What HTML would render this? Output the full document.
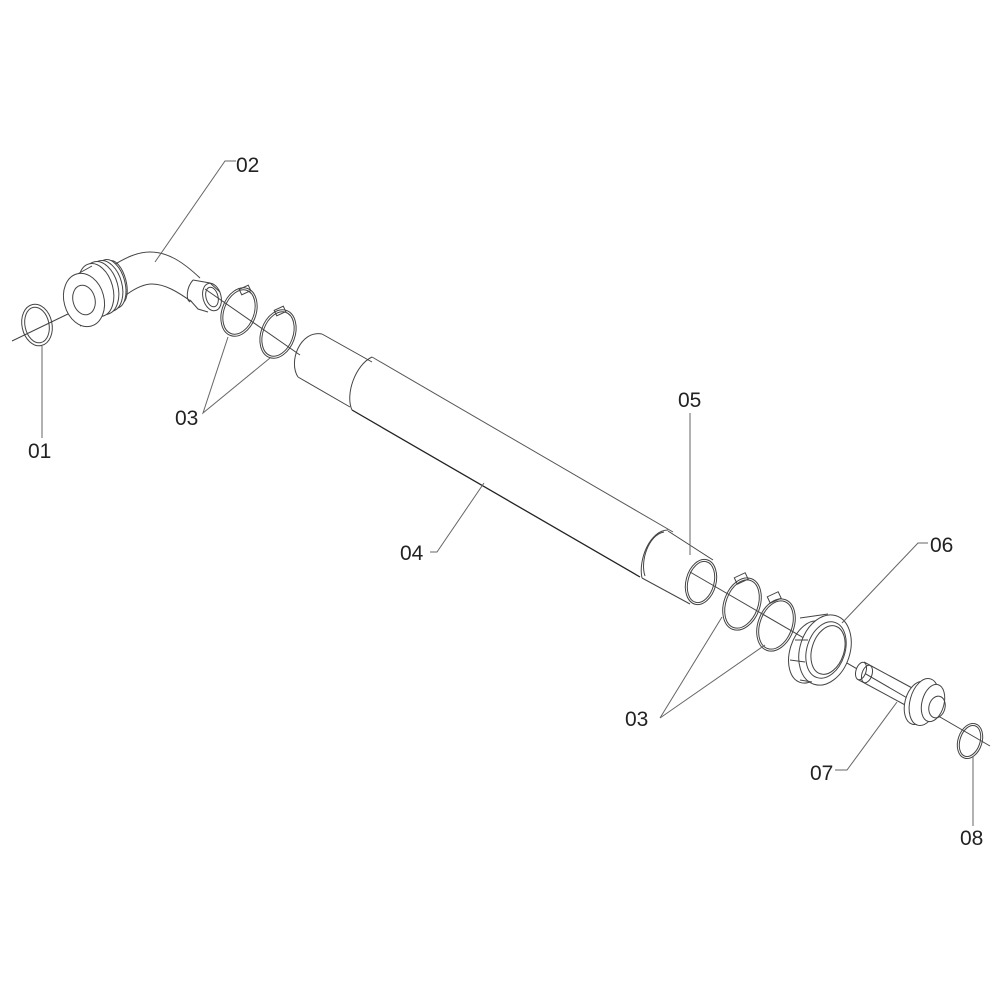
<!DOCTYPE html>
<html><head><style>
html,body{margin:0;padding:0;background:#fff;}
svg{display:block;}
text{font-family:"Liberation Sans",Arial,sans-serif;font-size:21px;fill:#222;}
</style></head><body>
<svg width="1000" height="1000" viewBox="0 0 1000 1000" xmlns="http://www.w3.org/2000/svg">
<g fill="none" stroke="#444" stroke-width="1">
<line x1="12" y1="341" x2="70" y2="313"/>
<line x1="205" y1="289" x2="300" y2="355"/>
<line x1="690" y1="572" x2="990" y2="746"/>

<ellipse cx="37" cy="325" rx="15" ry="21" transform="rotate(-12 37 325)"/>
<ellipse cx="37" cy="325" rx="12" ry="18" transform="rotate(-12 37 325)"/>

<path d="M112 266 C125 258 137 252 150 252 C168 252 183 262 200 278"/>
<path d="M122 298 C132 290 142 284 152 284 C165 284 178 292 192 302"/>
<ellipse cx="116" cy="282" rx="10" ry="22" transform="rotate(-15 116 282)"/>
<ellipse cx="111" cy="284" rx="14" ry="25" transform="rotate(-15 111 284)" fill="#fff"/>
<ellipse cx="106" cy="286" rx="16" ry="26" transform="rotate(-15 106 286)" fill="#fff"/>
<ellipse cx="101" cy="288" rx="17" ry="27" transform="rotate(-15 101 288)" fill="#fff"/>
<ellipse cx="96" cy="290" rx="17" ry="27" transform="rotate(-15 96 290)" fill="#fff"/>
<path d="M74 276 L92 266 M80 326 L98 318"/>
<ellipse cx="84" cy="300" rx="20" ry="27" transform="rotate(-15 84 300)" fill="#fff"/>
<ellipse cx="84" cy="300" rx="11" ry="15" transform="rotate(-15 84 300)"/>
<path d="M193 280 L210 283 L220 292 M190 300 L198 309 L208 312"/>
<path d="M193 280 C186 288 186 300 190 302"/>
<ellipse cx="212" cy="297" rx="9" ry="14" transform="rotate(-15 212 297)"/>
<ellipse cx="212" cy="297" rx="6" ry="10" transform="rotate(-15 212 297)"/>

<ellipse cx="239" cy="312" rx="17" ry="25" transform="rotate(20 239 312)"/>
<ellipse cx="239" cy="312" rx="15" ry="23" transform="rotate(20 239 312)"/>
<rect x="240" y="287" width="10" height="6" transform="rotate(-25 245 290)"/>
<ellipse cx="278" cy="334" rx="17" ry="25" transform="rotate(20 278 334)"/>
<ellipse cx="278" cy="334" rx="15" ry="23" transform="rotate(20 278 334)"/>
<rect x="275" y="308" width="10" height="6" transform="rotate(-25 280 311)"/>

<path d="M322 334 L372 362"/>
<path d="M298 377 L350 407"/>
<path d="M322 334 C300 330 288 362 298 377"/>
<path d="M372 357 C355 365 345 395 352 410"/>
<line x1="372" y1="357" x2="673" y2="532" stroke="#555"/>
<line x1="352" y1="410" x2="640" y2="577" stroke="#222" stroke-width="1.3"/>
<path d="M668 530 C650 530 638 560 642 578"/>
<path d="M664 532 C648 535 640 562 645 576"/>
<line x1="668" y1="531" x2="713" y2="560"/>
<line x1="642" y1="578" x2="690" y2="604"/>
<ellipse cx="701" cy="582" rx="15" ry="23" transform="rotate(15 701 582)"/>
<ellipse cx="701" cy="582" rx="13" ry="21" transform="rotate(15 701 582)"/>

<ellipse cx="742" cy="604" rx="18" ry="27" transform="rotate(20 742 604)"/>
<ellipse cx="742" cy="604" rx="16" ry="25" transform="rotate(20 742 604)"/>
<rect x="735" y="575" width="12" height="7" transform="rotate(-25 741 578)"/>
<ellipse cx="776" cy="625" rx="18" ry="27" transform="rotate(20 776 625)"/>
<ellipse cx="776" cy="625" rx="16" ry="25" transform="rotate(20 776 625)"/>
<rect x="768" y="594" width="12" height="7" transform="rotate(-25 774 597)"/>

<ellipse cx="810" cy="652" rx="20" ry="32" transform="rotate(18 810 652)"/>
<ellipse cx="825" cy="650" rx="25" ry="36" transform="rotate(18 825 650)" fill="#fff"/>
<ellipse cx="826" cy="650" rx="19" ry="29" transform="rotate(18 826 650)"/>
<ellipse cx="828" cy="650" rx="16" ry="25" transform="rotate(18 828 650)"/>
<path d="M800 618 L828 614 M790 660 L805 662 M795 640 L808 640 M800 680 L812 682"/>

<line x1="864" y1="662" x2="914" y2="689"/>
<line x1="857" y1="679" x2="907" y2="706"/>
<ellipse cx="861" cy="671" rx="5" ry="9" transform="rotate(18 861 671)" fill="#fff"/>
<ellipse cx="867" cy="674" rx="5" ry="9" transform="rotate(18 867 674)"/>
<ellipse cx="918" cy="703" rx="13" ry="22" transform="rotate(15 918 703)" fill="#fff"/>
<ellipse cx="924" cy="702" rx="14" ry="24" transform="rotate(15 924 702)" fill="#fff"/>
<ellipse cx="933" cy="703" rx="11" ry="19" transform="rotate(15 933 703)" fill="#fff"/>
<ellipse cx="937" cy="707" rx="8" ry="11" transform="rotate(15 937 707)"/>

<ellipse cx="970" cy="741" rx="12" ry="18" transform="rotate(18 970 741)"/>
<ellipse cx="970" cy="741" rx="10" ry="16" transform="rotate(18 970 741)"/>
</g>

<g fill="none" stroke="#666" stroke-width="1">
<polyline points="236,161 225,161 155,262"/>
<line x1="42" y1="346" x2="42" y2="438"/>
<polyline points="228,337 203,413 270,358"/>
<line x1="690" y1="413" x2="690" y2="555"/>
<polyline points="430,552 437,552 484,483"/>
<polyline points="928,543 918,543 842,623"/>
<polyline points="722,617 660,718 765,645"/>
<polyline points="835,770 847,770 897,702"/>
<line x1="973" y1="757" x2="973" y2="826"/>
</g>

<text x="236" y="172">02</text>
<text x="28" y="458">01</text>
<text x="175" y="425">03</text>
<text x="678" y="407">05</text>
<text x="400" y="560">04</text>
<text x="930" y="552">06</text>
<text x="625" y="726">03</text>
<text x="810" y="780">07</text>
<text x="960" y="845">08</text>
</svg>
</body></html>
